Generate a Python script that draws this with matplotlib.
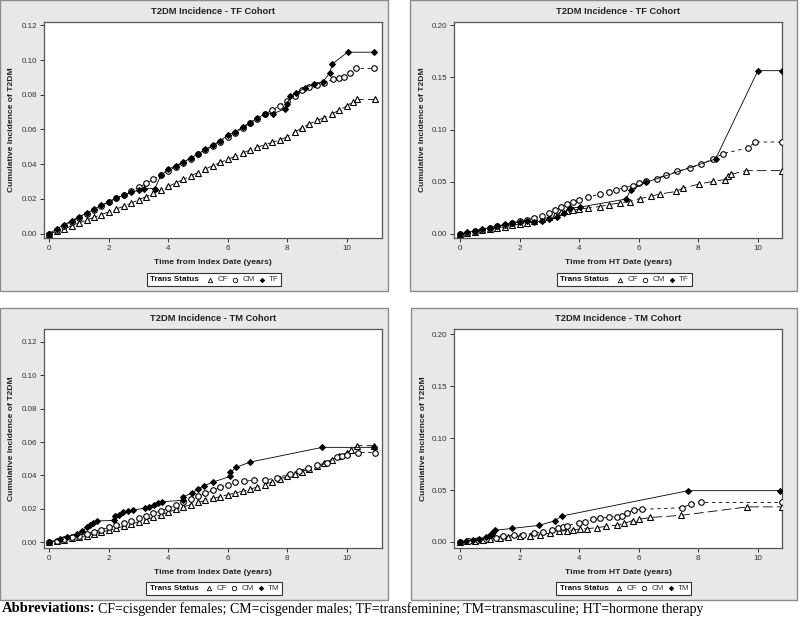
import matplotlib.pyplot as plt
from matplotlib.patches import Rectangle
from matplotlib.lines import Line2D

plt.rcParams['font.family'] = ['Liberation Sans', 'DejaVu Sans']
plt.rcParams['lines.scale_dashes'] = False

W, H = 800, 621

# ---- TF cohort, time from index date ----
tf_idx_cf_x = [0, 0.25, 0.5, 0.75, 1, 1.25, 1.5, 1.75, 2, 2.25, 2.5, 2.75, 3, 3.25, 3.5, 3.75,
               4, 4.25, 4.5, 4.75, 5, 5.25, 5.5, 5.75, 6, 6.25, 6.5, 6.75, 7, 7.25, 7.5, 7.75,
               8, 8.25, 8.5, 8.75, 9, 9.25, 9.5, 9.75, 10, 10.2, 10.35, 10.95]
tf_idx_cf_y = [0, 0.0013, 0.0028, 0.0045, 0.0062, 0.0078, 0.0094, 0.011, 0.0126, 0.0142, 0.0158,
               0.0175, 0.0195, 0.0213, 0.0232, 0.0252, 0.0272, 0.0292, 0.0312, 0.0332, 0.0352,
               0.0372, 0.0392, 0.041, 0.0428, 0.0446, 0.0464, 0.0482, 0.0498, 0.0512, 0.0526,
               0.054, 0.0558, 0.0585, 0.061, 0.0632, 0.0652, 0.0668, 0.0688, 0.0712, 0.0735,
               0.0758, 0.0773, 0.0773]
tf_idx_cm_x = [0, 0.25, 0.5, 0.75, 1, 1.25, 1.5, 1.75, 2, 2.25, 2.5, 2.75, 3, 3.25, 3.5, 3.75,
               4, 4.25, 4.5, 4.75, 5, 5.25, 5.5, 5.75, 6, 6.25, 6.5, 6.75, 7, 7.25, 7.5, 7.75,
               8, 8.25, 8.5, 8.75, 9, 9.25, 9.55, 9.75, 9.9, 10.1, 10.3, 10.93]
tf_idx_cm_y = [0, 0.0022, 0.0046, 0.007, 0.0093, 0.0116, 0.0138, 0.016, 0.0182, 0.0203, 0.0224,
               0.0245, 0.0266, 0.0289, 0.0313, 0.0338, 0.0362, 0.0386, 0.0409, 0.0432, 0.0456,
               0.048, 0.0505, 0.053, 0.0555, 0.0582, 0.0608, 0.0635, 0.0662, 0.0688, 0.0712,
               0.0738, 0.0765, 0.0795, 0.0825, 0.0845, 0.0858, 0.087, 0.0888, 0.0895, 0.0905,
               0.0925, 0.0952, 0.0952]
tf_idx_tf_x = [0, 0.25, 0.5, 0.75, 1, 1.25, 1.5, 1.75, 2, 2.25, 2.5, 2.75, 3, 3.2, 3.55, 3.75,
               4, 4.25, 4.5, 4.75, 5, 5.25, 5.5, 5.75, 6, 6.25, 6.5, 6.75, 7, 7.25, 7.54, 7.92,
               8.0, 8.1, 8.3, 8.6, 8.9, 9.2, 9.44, 9.51, 10.03, 10.93]
tf_idx_tf_y = [0, 0.0028, 0.0052, 0.0075, 0.0097, 0.0118, 0.014, 0.0163, 0.0185, 0.0205, 0.0222,
               0.0238, 0.025, 0.0258, 0.026, 0.0335, 0.037, 0.0392, 0.0412, 0.0436, 0.046,
               0.0485, 0.051, 0.0535, 0.0568, 0.0585, 0.0615, 0.064, 0.0665, 0.069, 0.0692,
               0.0718, 0.0745, 0.079, 0.081, 0.084, 0.086, 0.0875, 0.0928, 0.0976, 0.1045, 0.1045]

# ---- TF cohort, time from HT date ----
tf_ht_cf_x = [0, 0.25, 0.5, 0.75, 1, 1.25, 1.5, 1.75, 2, 2.25, 2.5, 2.75, 3, 3.2, 3.4, 3.6, 3.8,
              4.0, 4.3, 4.69, 5.0, 5.36, 5.7, 6.03, 6.4, 6.7, 7.26, 7.48, 8.04, 8.49, 8.88, 8.99,
              9.1, 9.61, 10.8]
tf_ht_cf_y = [0, 0.0009, 0.002, 0.0032, 0.0044, 0.0056, 0.0068, 0.008, 0.0093, 0.0106, 0.012,
              0.0138, 0.016, 0.0183, 0.0205, 0.022, 0.0228, 0.0235, 0.0248, 0.0262, 0.028,
              0.0296, 0.031, 0.0337, 0.036, 0.0381, 0.0407, 0.0439, 0.0478, 0.0503, 0.052,
              0.0551, 0.057, 0.0606, 0.0606]
tf_ht_cm_x = [0, 0.25, 0.5, 0.75, 1, 1.25, 1.5, 1.75, 2, 2.25, 2.5, 2.75, 3, 3.2, 3.4, 3.6, 3.8,
              4.0, 4.3, 4.69, 5.0, 5.25, 5.5, 5.8, 6.0, 6.25, 6.6, 6.92, 7.3, 7.71, 8.1, 8.49,
              8.83, 9.66, 9.92, 10.8]
tf_ht_cm_y = [0, 0.0012, 0.0026, 0.004, 0.0055, 0.0072, 0.0088, 0.0104, 0.012, 0.0136, 0.0152,
              0.0172, 0.0198, 0.0225, 0.026, 0.0285, 0.031, 0.0327, 0.0352, 0.0381, 0.0405,
              0.0423, 0.044, 0.0462, 0.0485, 0.0503, 0.053, 0.0567, 0.06, 0.0631, 0.067, 0.0718,
              0.0769, 0.0824, 0.0881, 0.0881]
tf_ht_tf_x = [0, 0.25, 0.5, 0.75, 1, 1.25, 1.5, 1.75, 2, 2.25, 2.5, 2.75, 3.0, 3.25, 3.5, 3.7,
              4.02, 5.58, 5.73, 6.25, 8.58, 10.0, 10.8]
tf_ht_tf_y = [0, 0.0014, 0.003, 0.0045, 0.006, 0.0075, 0.009, 0.0102, 0.0112, 0.012, 0.011,
              0.0125, 0.014, 0.016, 0.02, 0.0245, 0.0256, 0.0334, 0.0423, 0.0494, 0.0718,
              0.1565, 0.1565]

# ---- TM cohort, time from index date ----
tm_idx_cf_x = [0, 0.25, 0.5, 0.75, 1, 1.25, 1.5, 1.75, 2, 2.25, 2.5, 2.75, 3, 3.25, 3.5, 3.75,
               4, 4.25, 4.5, 4.75, 5, 5.25, 5.5, 5.75, 6, 6.25, 6.5, 6.75, 7, 7.25, 7.5, 7.75,
               8, 8.25, 8.5, 8.75, 9, 9.25, 9.5, 9.75, 10, 10.15, 10.36, 10.92]
tm_idx_cf_y = [0, 0.0007, 0.0015, 0.0022, 0.003, 0.0039, 0.0049, 0.006, 0.0071, 0.0083, 0.0095,
               0.0108, 0.0121, 0.0135, 0.0149, 0.0164, 0.018, 0.0196, 0.021, 0.0225, 0.0238,
               0.025, 0.0262, 0.0273, 0.0284, 0.0295, 0.0305, 0.0317, 0.0331, 0.0345, 0.0362,
               0.0378, 0.0394, 0.0408, 0.0422, 0.044, 0.0455, 0.0475, 0.0495, 0.0515, 0.0535,
               0.0552, 0.0578, 0.0578]
tm_idx_cm_x = [0, 0.25, 0.5, 0.75, 1, 1.25, 1.5, 1.75, 2, 2.25, 2.5, 2.75, 3, 3.25, 3.5, 3.75,
               4, 4.25, 4.5, 4.75, 5, 5.25, 5.5, 5.75, 6, 6.25, 6.54, 6.9, 7.26, 7.66, 8.11, 8.4,
               8.7, 9.0, 9.35, 9.69, 9.85, 10.02, 10.38, 10.94]
tm_idx_cm_y = [0, 0.0009, 0.0018, 0.0028, 0.0038, 0.005, 0.0062, 0.0075, 0.0088, 0.0101, 0.0114,
               0.0128, 0.0142, 0.0157, 0.0172, 0.0188, 0.0204, 0.022, 0.0238, 0.0256, 0.0274,
               0.0292, 0.031, 0.0328, 0.0345, 0.0358, 0.0366, 0.037, 0.0372, 0.0385, 0.041,
               0.0428, 0.0445, 0.046, 0.0472, 0.051, 0.0515, 0.0523, 0.0537, 0.0537]
tm_idx_tm_x = [0, 0.36, 0.6, 0.92, 1.1, 1.26, 1.38, 1.48, 1.6, 2.16, 2.21, 2.35, 2.49, 2.65, 2.83,
               3.22, 3.35, 3.51, 3.65, 3.79, 4.49, 4.49, 4.8, 5.0, 5.19, 5.51, 6.09, 6.09, 6.29,
               6.76, 9.18, 10.91]
tm_idx_tm_y = [0, 0.002, 0.0032, 0.005, 0.0068, 0.0088, 0.0105, 0.0117, 0.0127, 0.013, 0.0155,
               0.0165, 0.0178, 0.0185, 0.0194, 0.0203, 0.0212, 0.0222, 0.0232, 0.0242, 0.0251,
               0.027, 0.0295, 0.0318, 0.0337, 0.036, 0.0395, 0.0418, 0.0449, 0.048, 0.0568, 0.0568]

# ---- TM cohort, time from HT date ----
tm_ht_cf_x = [0, 0.25, 0.5, 0.77, 1.0, 1.33, 1.6, 2.0, 2.35, 2.7, 3.02, 3.34, 3.58, 3.8, 4.03,
              4.26, 4.6, 4.9, 5.27, 5.5, 5.8, 6.0, 6.39, 7.41, 9.65, 10.82]
tm_ht_cf_y = [0, 0.0005, 0.0011, 0.0019, 0.0027, 0.0038, 0.0045, 0.0055, 0.0058, 0.0072, 0.0083,
              0.0103, 0.0109, 0.0116, 0.0125, 0.0128, 0.0138, 0.015, 0.0163, 0.0178, 0.0206,
              0.0218, 0.0236, 0.0256, 0.0338, 0.0338]
tm_ht_cm_x = [0, 0.3, 0.6, 0.89, 1.2, 1.45, 1.8, 2.12, 2.5, 2.8, 3.1, 3.3, 3.47, 3.58, 3.98, 4.2,
              4.48, 4.71, 5.0, 5.27, 5.44, 5.6, 5.83, 6.11, 7.44, 7.74, 8.08, 10.82]
tm_ht_cm_y = [0, 0.0008, 0.0018, 0.0026, 0.004, 0.0058, 0.0063, 0.0067, 0.0085, 0.0099, 0.0115,
              0.013, 0.0147, 0.0157, 0.0179, 0.0195, 0.0218, 0.0228, 0.0238, 0.0244, 0.025,
              0.028, 0.0308, 0.0314, 0.033, 0.0362, 0.0381, 0.0381]
tm_ht_tm_x = [0, 0.2, 0.44, 0.65, 0.89, 1.0, 1.06, 1.12, 1.17, 1.76, 2.66, 3.19, 3.42, 7.66, 10.75]
tm_ht_tm_y = [0, 0.0008, 0.002, 0.0032, 0.005, 0.0065, 0.0077, 0.0095, 0.0112, 0.0131, 0.016,
              0.0205, 0.025, 0.0494, 0.0494]

fig = plt.figure(figsize=(8, 6.21), dpi=100)


def fx(px):
    return px / W


def fy(py):
    return 1 - py / H


styles = {
    'CF': dict(marker='^', mfc='white', ms=4, ls=(0, (7, 3))),
    'CM': dict(marker='o', mfc='white', ms=4, ls=(0, (2.5, 2.5))),
    'T': dict(marker='D', mfc='black', ms=3, ls='-'),
}


def panel(box, axbox, title, xlabel, ymax, ystep, ylim, xlim, series, legbox):
    x0, y0, x1, y1 = box
    fig.patches.append(Rectangle((fx(x0), fy(y1)), (x1 - x0) / W, (y1 - y0) / H,
                                 transform=fig.transFigure, facecolor='#e8e8e8',
                                 edgecolor='#8c8c8c', lw=1.0, zorder=0))
    a0, b0, a1, b1 = axbox
    ax = fig.add_axes([fx(a0), fy(b1), (a1 - a0) / W, (b1 - b0) / H])
    ax.set_zorder(2)
    for name, xs, ys in series:
        st = styles[name if name in ('CF', 'CM') else 'T']
        ax.plot(xs, ys, color='black', lw=0.6, ls=st['ls'], marker=st['marker'],
                ms=st['ms'], mfc=st['mfc'], mec='black', mew=0.8, zorder=3)
    ax.set_xlim(*xlim)
    ax.set_ylim(*ylim)
    ax.set_xticks([0, 2, 4, 6, 8, 10])
    n = int(round(ymax / ystep))
    ax.set_yticks([i * ystep for i in range(n + 1)])
    ax.yaxis.set_major_formatter(plt.FormatStrFormatter('%.2f'))
    ax.tick_params(labelsize=5.8, colors='#333333', length=3, width=0.7, pad=2)
    for sp in ax.spines.values():
        sp.set_color('#555555')
        sp.set_linewidth(0.9)
    cx = (a0 + a1) / 2
    fig.text(fx(cx), fy(b0 - 10), title, ha='center', va='center', fontsize=6.7,
             fontweight='bold', color='#222222')
    fig.text(fx(cx), fy(b1 + 24), xlabel, ha='center', va='center', fontsize=6.1,
             fontweight='bold', color='#222222')
    fig.text(fx(x0 + 12), fy((b0 + b1) / 2),
             'Cumulative Incidence of T2DM', rotation=90, ha='center', va='center',
             fontsize=6.1, fontweight='bold', color='#222222')
    # legend box
    l0, m0, l1, m1 = legbox
    fig.patches.append(Rectangle((fx(l0), fy(m1)), (l1 - l0) / W, (m1 - m0) / H,
                                 transform=fig.transFigure, facecolor='white',
                                 edgecolor='#333333', lw=0.8, zorder=1))
    my = (m0 + m1) / 2
    fig.text(fx(l0 + 3.5), fy(my), 'Trans Status', ha='left', va='center', fontsize=5.9,
             fontweight='bold', color='#111111')
    offs = [(63, 71), (88, 96), (115, 122)]
    for (mo, to), (name, _, _) in zip(offs, series):
        st = styles[name if name in ('CF', 'CM') else 'T']
        fig.add_artist(Line2D([fx(l0 + mo)], [fy(my)], transform=fig.transFigure,
                              marker=st['marker'], ms=st['ms'] - 0.8, mfc=st['mfc'],
                              mec='black', mew=0.6, ls='none'))
        fig.text(fx(l0 + to), fy(my), name, ha='left', va='center', fontsize=5.9,
                 color='#333333')
    return ax


panel((0, 0, 388, 291), (44, 22, 382, 238), 'T2DM Incidence - TF Cohort',
      'Time from Index Date (years)', 0.12, 0.02, (-0.0025, 0.1219), (-0.18, 11.19),
      [('CF', tf_idx_cf_x, tf_idx_cf_y), ('CM', tf_idx_cm_x, tf_idx_cm_y),
       ('TF', tf_idx_tf_x, tf_idx_tf_y)], (146.5, 273, 281, 286))
panel((410, 0, 797, 291), (454, 22, 782, 238), 'T2DM Incidence - TF Cohort',
      'Time from HT Date (years)', 0.20, 0.05, (-0.004, 0.2032), (-0.2, 10.81),
      [('CF', tf_ht_cf_x, tf_ht_cf_y), ('CM', tf_ht_cm_x, tf_ht_cm_y),
       ('TF', tf_ht_tf_x, tf_ht_tf_y)], (557, 273, 691.5, 286))
panel((0, 308, 388, 600), (44, 329, 382, 548), 'T2DM Incidence - TM Cohort',
      'Time from Index Date (years)', 0.12, 0.02, (-0.0035, 0.1277), (-0.18, 11.19),
      [('CF', tm_idx_cf_x, tm_idx_cf_y), ('CM', tm_idx_cm_x, tm_idx_cm_y),
       ('TM', tm_idx_tm_x, tm_idx_tm_y)], (146, 581.5, 282, 594.5))
panel((411, 308, 797, 600), (454, 329, 782, 548), 'T2DM Incidence - TM Cohort',
      'Time from HT Date (years)', 0.20, 0.05, (-0.0058, 0.2051), (-0.2, 10.81),
      [('CF', tm_ht_cf_x, tm_ht_cf_y), ('CM', tm_ht_cm_x, tm_ht_cm_y),
       ('TM', tm_ht_tm_x, tm_ht_tm_y)], (556, 581.5, 691, 594.5))

# footer note
serif = ['Liberation Serif', 'DejaVu Serif']
t1 = fig.text(fx(2), fy(609), 'Abbreviations:', ha='left', va='center', fontsize=10.5,
              fontweight='bold', family=serif)
renderer = fig.canvas.get_renderer()
bb = t1.get_window_extent(renderer)
fig.text(bb.x1 / W + fx(3), fy(609),
         'CF=cisgender females; CM=cisgender males; TF=transfeminine; '
         'TM=transmasculine; HT=hormone therapy',
         ha='left', va='center', fontsize=10, family=serif)

fig.savefig('out.png', dpi=100)
